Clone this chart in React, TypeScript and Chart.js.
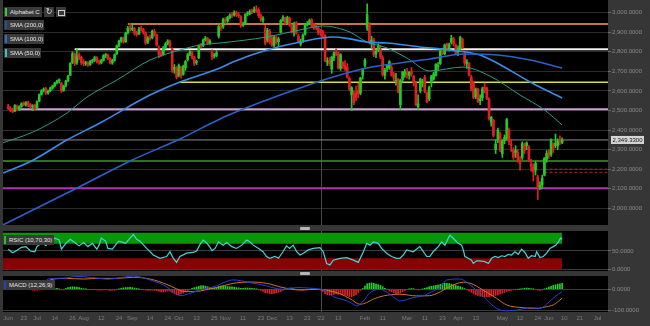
import React, { useEffect, useRef } from 'react';
import { Chart, registerables } from 'chart.js';
Chart.register(...registerables);

// ---------- DATA ----------
// daily candles [open, high, low, close], trading days from mid-June 2021 to early June 2022
const candles: number[][] = [
  // Jun 2021
  [2520,2532,2505,2510],[2512,2520,2494,2500],[2498,2512,2488,2495],[2497,2530,2494,2525],[2522,2528,2500,2505],
  [2506,2524,2500,2520],[2521,2540,2516,2535],[2538,2545,2525,2530],[2528,2546,2522,2540],[2542,2548,2520,2528],
  [2530,2536,2512,2520],[2518,2530,2500,2525],[2524,2532,2504,2510],
  // Jul
  [2512,2550,2508,2545],[2548,2585,2545,2580],[2582,2606,2578,2600],[2602,2616,2595,2610],[2612,2618,2582,2590],
  [2590,2604,2584,2600],[2602,2620,2596,2615],[2616,2630,2608,2625],[2626,2644,2620,2640],[2642,2655,2636,2650],
  [2652,2662,2640,2655],[2640,2645,2592,2600],[2602,2630,2598,2625],[2626,2655,2620,2650],[2652,2680,2648,2675],
  [2680,2745,2678,2740],[2745,2800,2740,2790],[2790,2795,2730,2740],[2745,2815,2735,2780],[2785,2795,2760,2770],
  [2770,2778,2735,2745],
  // Aug
  [2748,2760,2728,2740],[2738,2752,2730,2745],[2746,2750,2725,2735],[2736,2756,2730,2750],[2752,2762,2742,2755],
  [2756,2778,2750,2770],[2770,2775,2742,2750],[2752,2758,2736,2745],[2744,2762,2738,2755],[2756,2786,2752,2780],
  [2780,2792,2770,2785],[2784,2788,2760,2765],[2766,2770,2738,2745],[2744,2762,2736,2755],[2756,2790,2752,2785],
  [2790,2835,2786,2830],[2832,2860,2826,2855],[2856,2875,2848,2870],[2872,2876,2844,2850],[2852,2900,2848,2895],
  [2898,2930,2892,2920],[2922,2945,2905,2915],
  // Sep
  [2915,2940,2908,2920],[2918,2925,2885,2895],[2896,2905,2880,2890],[2892,2925,2888,2915],[2918,2932,2905,2915],
  [2914,2920,2890,2900],[2898,2902,2838,2845],[2850,2878,2842,2870],[2875,2885,2860,2870],[2872,2912,2866,2905],
  [2904,2915,2880,2890],[2888,2892,2828,2835],[2820,2830,2770,2785],[2790,2805,2775,2785],[2788,2828,2782,2820],
  [2822,2848,2815,2840],[2842,2862,2835,2855],[2852,2860,2822,2830],[2815,2820,2695,2705],[2710,2735,2690,2720],
  [2718,2725,2662,2670],
  // Oct
  [2680,2738,2672,2730],[2720,2726,2665,2680],[2685,2732,2680,2725],[2718,2756,2705,2750],[2760,2792,2752,2785],
  [2788,2808,2780,2800],[2796,2802,2762,2770],[2770,2778,2730,2740],[2745,2758,2735,2750],[2770,2836,2765,2830],
  [2838,2842,2820,2835],[2832,2866,2826,2860],[2862,2880,2855,2870],[2868,2874,2838,2845],[2846,2862,2838,2855],
  [2800,2810,2760,2775],[2778,2792,2768,2780],[2782,2808,2775,2795],[2880,2945,2870,2930],[2928,2940,2910,2925],
  [2928,2972,2920,2965],
  // Nov
  [2962,2975,2945,2960],[2958,2982,2950,2975],[2976,2995,2968,2985],[2988,3000,2975,2985],[2988,3010,2982,3000],
  [3002,3008,2980,2990],[2990,3000,2975,2985],[2980,2985,2925,2935],[2936,2952,2930,2940],[2945,2995,2940,2990],
  [2992,3005,2985,2995],[2996,3015,2990,3005],[3008,3018,2995,3005],[3006,3030,3000,3015],[3018,3035,3002,3010],
  [3012,3025,2975,2985],[2985,2995,2955,2965],[2962,2980,2950,2970],[2920,2935,2835,2845],[2860,2920,2850,2910],
  [2905,2915,2840,2850],
  // Dec
  [2870,2885,2828,2835],[2832,2882,2825,2875],[2872,2880,2840,2850],[2852,2875,2830,2865],[2900,2965,2895,2960],
  [2962,2985,2955,2975],[2972,2978,2940,2945],[2948,2982,2940,2975],[2972,2978,2930,2935],[2930,2940,2895,2900],
  [2902,2952,2880,2945],[2948,2955,2890,2895],[2880,2890,2845,2855],[2840,2865,2830,2850],[2855,2892,2848,2885],
  [2890,2945,2885,2940],[2938,2955,2932,2942],[2945,2968,2940,2960],[2962,2970,2925,2930],[2933,2945,2915,2930],
  [2932,2940,2912,2920],[2920,2928,2888,2895],
  // Jan 2022
  [2905,2915,2880,2900],[2902,2910,2870,2890],[2885,2888,2750,2755],[2748,2770,2730,2752],[2755,2770,2730,2740],
  [2712,2778,2690,2772],[2770,2800,2755,2795],[2800,2815,2780,2792],[2795,2800,2712,2718],[2715,2790,2705,2785],
  [2745,2750,2715,2727],[2730,2755,2705,2713],[2720,2740,2665,2670],[2665,2672,2600,2608],[2580,2622,2500,2616],
  [2590,2600,2530,2540],[2590,2625,2550,2565],[2600,2640,2565,2584],[2590,2670,2580,2667],[2680,2715,2660,2713],
  // Feb
  [2730,2765,2720,2757],[2925,3045,2910,2990],[2940,2950,2840,2853],[2840,2880,2815,2860],[2860,2870,2775,2784],
  [2790,2815,2770,2803],[2810,2840,2800,2829],[2810,2830,2765,2773],[2770,2780,2675,2683],[2680,2715,2660,2706],
  [2715,2735,2700,2728],[2720,2755,2710,2749],[2720,2730,2675,2681],[2685,2695,2650,2665],[2650,2690,2630,2652],
  [2660,2665,2590,2597],[2530,2660,2505,2653],[2660,2700,2645,2697],[2685,2710,2670,2697],
  // Mar
  [2690,2715,2665,2683],[2680,2700,2660,2695],[2700,2720,2675,2686],[2675,2680,2625,2642],[2640,2645,2525,2530],
  [2520,2580,2505,2534],[2600,2665,2590,2660],[2640,2660,2620,2647],[2670,2680,2590,2597],[2590,2595,2540,2545],
  [2560,2625,2550,2617],[2645,2680,2620,2676],[2660,2695,2655,2687],[2680,2740,2675,2735],[2725,2745,2705,2730],
  [2740,2815,2735,2805],[2795,2820,2785,2790],[2790,2840,2785,2835],[2840,2845,2810,2830],[2820,2845,2805,2837],
  [2850,2885,2840,2868],[2865,2875,2830,2840],[2835,2840,2790,2793],
  // Apr
  [2800,2830,2780,2815],[2815,2880,2810,2873],[2865,2870,2815,2821],[2790,2800,2730,2744],[2740,2760,2715,2748],
  [2740,2745,2675,2680],[2670,2680,2600,2610],[2640,2650,2560,2567],[2570,2615,2560,2609],[2610,2615,2540,2545],
  [2550,2580,2530,2560],[2565,2620,2550,2611],[2620,2640,2590,2605],[2615,2620,2555,2561],[2560,2565,2450,2458],
  [2440,2470,2420,2466],[2450,2455,2365,2373],[2300,2350,2280,2329],[2350,2410,2335,2400],[2380,2390,2290,2299],
  // May
  [2280,2350,2260,2344],[2345,2375,2330,2363],[2360,2460,2350,2453],[2400,2410,2325,2340],[2330,2350,2290,2323],
  [2300,2310,2250,2262],[2285,2320,2260,2295],[2285,2300,2235,2245],[2230,2265,2195,2228],[2260,2340,2250,2330],
  [2320,2335,2280,2295],[2320,2340,2300,2334],[2310,2320,2240,2248],[2225,2250,2190,2214],[2210,2228,2140,2186],
  [2195,2240,2170,2230],[2160,2170,2045,2110],[2110,2135,2095,2116],[2120,2170,2100,2155],[2170,2260,2165,2256],
  [2250,2295,2235,2281],
  // Jun
  [2285,2300,2255,2272],[2275,2355,2265,2350],[2330,2335,2285,2303],[2320,2380,2310,2333],[2320,2355,2300,2345],
  [2350,2370,2325,2343],[2335,2360,2330,2349.33],
];

// moving averages: [trading-day index, value]
const sma200: number[][] = [[-2.35,1915],[32,2109],[56,2247],[77.5,2354],[95.6,2457],[116.8,2554],[131.7,2615],[146.6,2671],[161.9,2717],[176.8,2743],[190.3,2763],[205.2,2789],[220.6,2784],[235.5,2758],[250,2717]];
const sma100: number[][] = [[-2.35,2180],[11.2,2246],[26.5,2349],[41.4,2436],[64,2579],[77.5,2646],[95.6,2717],[101.4,2748],[116.8,2809],[131.7,2850],[146.6,2876],[154.2,2866],[161.9,2850],[170.9,2845],[185.8,2825],[199.4,2809],[212.9,2784],[220.6,2743],[235.5,2646],[250,2564]];
const sma50: number[][] = [[-2.35,2335],[11.2,2390],[26.5,2487],[35.6,2569],[49.1,2656],[64,2758],[77.5,2809],[86.6,2835],[95.6,2845],[116.8,2876],[131.7,2912],[142,2932],[154.2,2901],[161.9,2850],[170.9,2820],[180,2768],[190.3,2702],[205.2,2722],[217.4,2676],[231,2579],[242,2503],[250,2426]];

// horizontal levels: value and start index
const levelValues = [2942, 2813, 2644, 2506, 2242, 2102];
const levelStarts = [54, 30, 77.5, 4.4, -2.35, -2.35];
const dashedLevels = [2200, 2184];
const dashedStart = 242;

// RSI points [index, value]
const rsiPts: number[][] = [[0,55],[2,45],[4,52],[6,60],[8,62],[10,50],[12,48],[13,62],[15,72],[17,65],[19,75],
  [21,85],[23,80],[24,55],[26,71],[28,82],[30,73],[32,64],[34,73],[36,62],[38,71],[40,55],[41,66],[42,85],[44,77],[45,57],[47,55],[49,71],[50,77],[53,71],[55,85],[56.5,95],[58,82],[59.5,77],[62.5,57],[65.5,39],[68.5,30],[71.5,35],[73,48],[74.5,30],[76,19],[77.5,35],[80.5,44],[83.5,46],
  [85,50],[86.6,68],[88,80],[89.6,72],[91.1,60],[91.9,51],[93.4,57],[94.9,75],[97,66],[98.6,73],[101,62],[103,57],[105.4,66],[107.6,80],[109,75],[110.6,66],[113,57],[115,48],[116.6,35],[118,30],[120.4,35],[122,30],[124,48],[125.6,64],[127,57],[128.6,66],[130.2,48],[131.7,39],[133.2,44],[135.4,53],[137.7,57],[140.7,59],[142.2,48],[143.7,16],[145.2,12],[146.7,25],[149.7,30],[152.8,32],[155.8,25],[158,19],[160.3,48],[161.8,71],[163.3,66],[164.8,75],[167,71],[168.5,57],[170.8,44],[173,35],[175.3,30],[176.8,30],[178.3,39],[179.8,53],[182.8,48],[185.8,62],[188.9,35],
  [190.3,35],[191.8,48],[194.1,62],[195.6,75],[197.1,66],[198.6,85],[199.4,93],[200.1,89],[201.6,80],[203.1,71],[204.6,66],[205.4,53],[206.1,35],[207.6,30],[209.1,25],[209.9,16],[211.4,23],[212.9,23],[215.1,21],[216.7,16],[218.2,30],[219.7,35],[221.2,32],[222.7,37],[224.2,35],[225.7,41],[227.2,39],[228.7,48],[230.2,41],[231.7,55],[233.2,46],[234.7,30],[236.2,37],[237.8,35],[238.5,48],[240,32],[241.5,35],[243,44],[244.5,57],[246,62],[247.2,66],[248.3,75],[249.3,85],[250,82]];

// MACD line and signal [index, value]; histogram per day
const macdPts: number[][] = [[-2.35,30],[6,26],[12,22],[16,35],[19,50],[26,52],[30,60],[34,59],[41,51],[45,47],[49,52],[53,58],[56.5,62],[60,56],[64,44],[68,30],[71.5,12],[74.5,-11],[78,-30],[82,-19],[86.6,-3],[91,8],[94,16],[98,35],[101.6,44],[105,40],[109,31],[113,24],[116.6,16],[120,6],[124,0],[128,6],[131.7,8],[135,6],[139,3],[143.7,-8],[146.7,-34],[150,-45],[152.8,-54],[155,-65],[157.3,-78],[160.3,-54],[163.3,-16],[167.8,0],[172.3,-23],[176.8,-54],[182.8,-39],[188,-28],[191,-12],[195,10],[198,44],[203.9,48],[206.9,33],[209.9,8],[214.4,-34],[220.4,-89],[224.9,-101],[229.5,-97],[235.5,-86],[240,-89],[243,-70],[246.8,-34],[250,-11]];
const signalPts: number[][] = [[-2.35,28],[6,26],[12,24],[16,28],[19,44],[26,51],[34,48],[41,51],[49,51],[56.5,56],[64,48],[71.5,23],[76,2],[80,-11],[86.6,-8],[91,2],[94,8],[101.6,28],[109,34],[116.6,28],[124,8],[131.7,-3],[139,0],[146.7,-11],[150,-22],[154.3,-44],[158.8,-70],[161.8,-62],[165,-45],[169.3,-31],[176.8,-23],[184.3,-31],[190,-30],[195,-12],[197.9,5],[205.4,33],[209.9,23],[212.9,5],[220.4,-42],[224.9,-73],[232.5,-86],[238.5,-89],[243,-81],[246,-73],[250,-42]];
const histogram: number[] = [
  3,4,4,3,2,2,3,3,2,1,-2,-4,-5,
  -4,-3,-1,1,2,2,3,3,
  3,4,2,-2,-1,
  4,8,10,12,11,10,8,5,
  3,1,-1,-2,-2,-1,-3,-4,-4,-3,
  -2,-3,-5,-5,-4,-1,
  2,5,7,8,8,9,8,
  6,4,2,0,-1,-4,-5,-5,
  -4,-5,-7,-10,-12,-12,-10,-8,-9,
  -15,-20,-26,-26,-22,-18,-12,
  -6,-1,4,8,11,
  14,16,17,15,12,8,6,6,
  8,14,15,16,15,13,12,11,10,8,7,5,5,6,6,6,5,
  3,1,-2,-6,-10,-16,-18,-20,-20,-19,-17,-14,-10,-5,
  1,4,6,5,2,
  -1,-3,-4,-5,-3,-1,0,1,1,0,-1,
  -4,-10,-20,-25,-28,-27,-24,-22,-24,-22,-24,-27,-30,-34,-35,-30,-25,
  -15,-5,4,
  15,26,29,30,28,24,22,18,12,
  5,-3,-8,-12,-16,-20,-20,-17,-12,
  -6,-2,2,4,3,-1,-3,-2,2,5,8,
  12,14,16,18,20,23,26,28,28,27,24,21,18,15,12,8,3,-3,
  -8,-14,-20,-25,-29,-32,-34,-35,-35,-34,-32,-30,-28,-26,-22,-18,-14,-10,
  -7,-5,-3,-2,0,1,
  3,5,6,5,3,1,
  -2,-4,-5,-3,
  2,6,10,14,18,21,24,26,28,
];

// axis ticks
const priceTicks = [2000,2100,2200,2300,2400,2500,2600,2700,2800,2900,3000];
const rsiTicks = [0, 50];
const macdTicks = [0, -100];
const xTickIdx = [0,7,13,21,29,34,42,50,56,64,72,77,85,93,98,106,114,119,127,135,141,149,161,169,180,188,196,203,211,223,231,239,244,251,258,266];
const xTickLabels = ['Jun','23','Jul','14','26','Aug','12','24','Sep','14','24','Oct','13','25','Nov','11','23','Dec','13','23',"'22",'13','Feb','11','Mar','11','23','Apr','13','May','12','24','Jun','10','21','Jul'];
const yearIdx = 141;

// ---------- LAYOUT CONSTANTS ----------
const X_MIN = -2.35;
const X_MAX = 270.7;
const LAST = candles.length - 1;
const UP = '#25c825';
const DOWN = '#e02020';
const FONT = 'Liberation Sans';

const fmt = (v: number) => Number(v).toLocaleString('en-US', { minimumFractionDigits: 4, maximumFractionDigits: 4 });

const bgPlugin = {
  id: 'bgPane',
  beforeDraw(chart: any) {
    const { ctx, chartArea: a } = chart;
    ctx.save();
    ctx.fillStyle = '#000';
    ctx.fillRect(a.left, a.top, a.right - a.left, a.bottom - a.top);
    ctx.restore();
  },
};

const yearPlugin = {
  id: 'yearLine',
  beforeDatasetsDraw(chart: any) {
    const { ctx, chartArea: a, scales } = chart;
    const x = Math.round(scales.x.getPixelForValue(yearIdx)) + 0.5;
    ctx.save();
    ctx.strokeStyle = '#4a4a4a';
    ctx.lineWidth = 1;
    ctx.beginPath();
    ctx.moveTo(x, a.top);
    ctx.lineTo(x, a.bottom);
    ctx.stroke();
    ctx.restore();
  },
};

const priceLabelPlugin = {
  id: 'priceLabel',
  afterDraw(chart: any) {
    const { ctx, chartArea: a, scales } = chart;
    const last = candles[LAST][3];
    const y = scales.y.getPixelForValue(last);
    ctx.save();
    ctx.fillStyle = '#d6d6d6';
    ctx.fillRect(a.right + 3, y - 4, 33, 8);
    ctx.fillStyle = '#111';
    ctx.font = `6px ${FONT}`;
    ctx.textAlign = 'center';
    ctx.textBaseline = 'middle';
    ctx.fillText(fmt(last), a.right + 19.5, y + 0.5);
    ctx.restore();
  },
};

const xBase = {
  type: 'linear',
  min: X_MIN,
  max: X_MAX,
  offset: false,
  grid: { display: false, offset: false },
  border: { display: false },
};

const yRight = (min: number, max: number, ticks: number[], gridColor: string) => ({
  position: 'right',
  min,
  max,
  afterFit: (s: any) => { s.width = 42; s.paddingTop = 0; s.paddingBottom = 0; },
  afterBuildTicks: (s: any) => { s.ticks = ticks.map((v) => ({ value: v })); },
  grid: { color: gridColor, tickLength: 3, tickColor: '#6a6a6a', drawTicks: true },
  border: { display: false },
  ticks: { color: '#8a8a8a', font: { family: FONT, size: 6 }, padding: 1, callback: (v: any) => fmt(v) },
});

const commonOpts = {
  animation: false,
  responsive: false,
  events: [],
  plugins: { legend: { display: false }, tooltip: { enabled: false } },
};

const line = (pts: number[][], color: string, width: number, order: number) => ({
  type: 'line',
  data: pts.map((p) => ({ x: p[0], y: p[1] })),
  borderColor: color,
  borderWidth: width,
  pointRadius: 0,
  fill: false,
  cubicInterpolationMode: 'monotone',
  order,
});

function Tag(props: { left: number; top: number; width: number; color: string; text: string }) {
  return (
    <div style={{
      position: 'absolute', left: props.left, top: props.top, width: props.width, height: 10,
      background: '#3a3a3a', color: '#e6e6e6', fontFamily: '"Liberation Sans", Arial, sans-serif',
      fontSize: 6, lineHeight: '10px', paddingLeft: 6, boxSizing: 'border-box', whiteSpace: 'nowrap',
    }}>
      <div style={{ position: 'absolute', left: 1, top: 1, width: 2, height: 8, background: props.color }} />
      {props.text}
    </div>
  );
}

export default function App() {
  const mainRef = useRef<HTMLCanvasElement>(null);
  const rsiRef = useRef<HTMLCanvasElement>(null);
  const macdRef = useRef<HTMLCanvasElement>(null);

  useEffect(() => {
    const candleColors = candles.map((c) => (c[3] >= c[0] ? UP : DOWN));
    const levelDatasets = levelValues.map((v, i) => ({
      type: 'line',
      data: [{ x: levelStarts[i], y: v }, { x: X_MAX, y: v }],
      borderColor: ['#c77a3c', '#f2f2f2', '#dcdc3a', '#caa0d0', '#3f981f', '#b532b5'][i],
      borderWidth: [2, 2, 1.5, 2, 1.5, 2][i],
      pointRadius: 0,
      fill: false,
      order: 10,
    }));
    const dashed = dashedLevels.map((v) => ({
      type: 'line',
      data: [{ x: dashedStart, y: v }, { x: X_MAX, y: v }],
      borderColor: '#a82828',
      borderWidth: 1,
      borderDash: [3, 2],
      pointRadius: 0,
      fill: false,
      order: 10,
    }));
    const lastLine = {
      type: 'line',
      data: [{ x: X_MIN, y: candles[LAST][3] }, { x: X_MAX, y: candles[LAST][3] }],
      borderColor: '#8c8c8c',
      borderWidth: 1,
      pointRadius: 0,
      fill: false,
      order: 11,
    };

    const main = new Chart(mainRef.current as any, {
      type: 'bar',
      data: {
        datasets: [
          ...levelDatasets,
          ...dashed,
          lastLine,
          {
            data: candles.map((c, i) => ({ x: i, y: [c[2], c[1]] })),
            backgroundColor: candleColors,
            borderWidth: 0,
            barThickness: 1,
            grouped: false,
            order: 6,
          },
          {
            data: candles.map((c, i) => ({ x: i, y: [Math.min(c[0], c[3]), Math.max(c[0], c[3])] })),
            backgroundColor: candleColors,
            borderWidth: 0,
            barThickness: 2,
            minBarLength: 1,
            grouped: false,
            order: 5,
          },
          line(sma50, '#2e9a88', 1, 3),
          line(sma100, '#3a8de6', 1.6, 2),
          line(sma200, '#2a62c8', 1.6, 1),
        ] as any,
      },
      options: {
        ...commonOpts,
        layout: { padding: { left: 3, top: 0, right: 0, bottom: 0 } },
        scales: {
          x: { ...xBase, display: false },
          y: yRight(1914.6, 3064.9, priceTicks, '#2c2c2c'),
        },
      } as any,
      plugins: [bgPlugin, yearPlugin, priceLabelPlugin],
    } as any);

    const rsi = new Chart(rsiRef.current as any, {
      type: 'line',
      data: {
        datasets: [
          { data: [{ x: X_MIN, y: 100 }, { x: LAST, y: 100 }], fill: { value: 70 }, backgroundColor: '#0b950b', borderWidth: 0, pointRadius: 0, order: 3 },
          { data: [{ x: X_MIN, y: 30 }, { x: LAST, y: 30 }], fill: { value: 0 }, backgroundColor: '#880404', borderWidth: 0, pointRadius: 0, order: 2 },
          { data: rsiPts.map((p) => ({ x: p[0], y: p[1] })), borderColor: '#44d6d6', borderWidth: 1.2, pointRadius: 0, fill: false, order: 1 },
        ] as any,
      },
      options: {
        ...commonOpts,
        layout: { padding: { left: 3, top: 5, right: 0, bottom: 5 } },
        scales: {
          x: { ...xBase, display: false },
          y: yRight(-4.6, 104.6, rsiTicks, '#3c3c3c'),
        },
      } as any,
      plugins: [bgPlugin, yearPlugin],
    } as any);

    const macd = new Chart(macdRef.current as any, {
      type: 'bar',
      data: {
        datasets: [
          line(macdPts, '#2a3ed8', 1, 1),
          line(signalPts, '#d0712c', 1, 2),
          {
            data: histogram.map((h, i) => ({ x: i, y: h })),
            backgroundColor: histogram.map((h) => (h >= 0 ? '#2ad02a' : '#e02424')),
            borderWidth: 0,
            barThickness: 1,
            grouped: false,
            order: 3,
          },
        ] as any,
      },
      options: {
        ...commonOpts,
        layout: { padding: { left: 3, top: 5, right: 0, bottom: 0 } },
        scales: {
          x: {
            ...xBase,
            display: true,
            afterFit: (s: any) => { s.height = 14; s.paddingLeft = 0; s.paddingRight = 0; },
            afterBuildTicks: (s: any) => { s.ticks = xTickIdx.map((v) => ({ value: v })); },
            grid: { display: false, drawTicks: false, offset: false },
            ticks: {
              color: '#7c7c7c', font: { family: FONT, size: 6 }, padding: 3,
              autoSkip: false, maxRotation: 0, minRotation: 0,
              callback: (_v: any, i: number) => xTickLabels[i],
            },
          },
          y: yRight(-106.1, 62.1, macdTicks, '#3c3c3c'),
        },
      } as any,
      plugins: [bgPlugin, yearPlugin],
    } as any);

    return () => { main.destroy(); rsi.destroy(); macd.destroy(); };
  }, []);

  return (
    <div style={{ position: 'fixed', left: 0, top: 0, width: 650, height: 326, background: '#363636', overflow: 'hidden' }}>
      <canvas ref={mainRef} width={650} height={225} style={{ position: 'absolute', left: 0, top: 0, width: 650, height: 225 }} />
      <canvas ref={rsiRef} width={650} height={50} style={{ position: 'absolute', left: 0, top: 226, width: 650, height: 50 }} />
      <canvas ref={macdRef} width={650} height={55} style={{ position: 'absolute', left: 0, top: 271, width: 650, height: 55 }} />
      <div style={{ position: 'absolute', left: 300, top: 227, width: 10, height: 3, background: '#b5b5b5', borderRadius: 1 }} />
      <div style={{ position: 'absolute', left: 300, top: 272, width: 10, height: 3, background: '#b5b5b5', borderRadius: 1 }} />
      <Tag left={4} top={7} width={38} color="#33cc33" text="Alphabet C" />
      <div style={{ position: 'absolute', left: 44, top: 7, width: 10, height: 10, background: '#3a3a3a', color: '#ddd', fontSize: 8, lineHeight: '10px', textAlign: 'center', fontFamily: '"DejaVu Sans", sans-serif' }}>↻</div>
      <div style={{ position: 'absolute', left: 56, top: 7, width: 10, height: 10, background: '#3a3a3a' }}>
        <div style={{ position: 'absolute', left: 2, top: 3, width: 5, height: 4, border: '1px solid #ccc' }} />
      </div>
      <Tag left={4} top={20} width={40} color="#1f4fa6" text="SMA (200,0)" />
      <Tag left={4} top={34} width={40} color="#2a6fd0" text="SMA (100,0)" />
      <Tag left={4} top={48} width={37} color="#36c3c8" text="SMA (50,0)" />
      <Tag left={3} top={235} width={51} color="#26c326" text="RSIC (10,70,30)" />
      <Tag left={3} top={280} width={52} color="#2440c8" text="MACD (12,26,9)" />
    </div>
  );
}
